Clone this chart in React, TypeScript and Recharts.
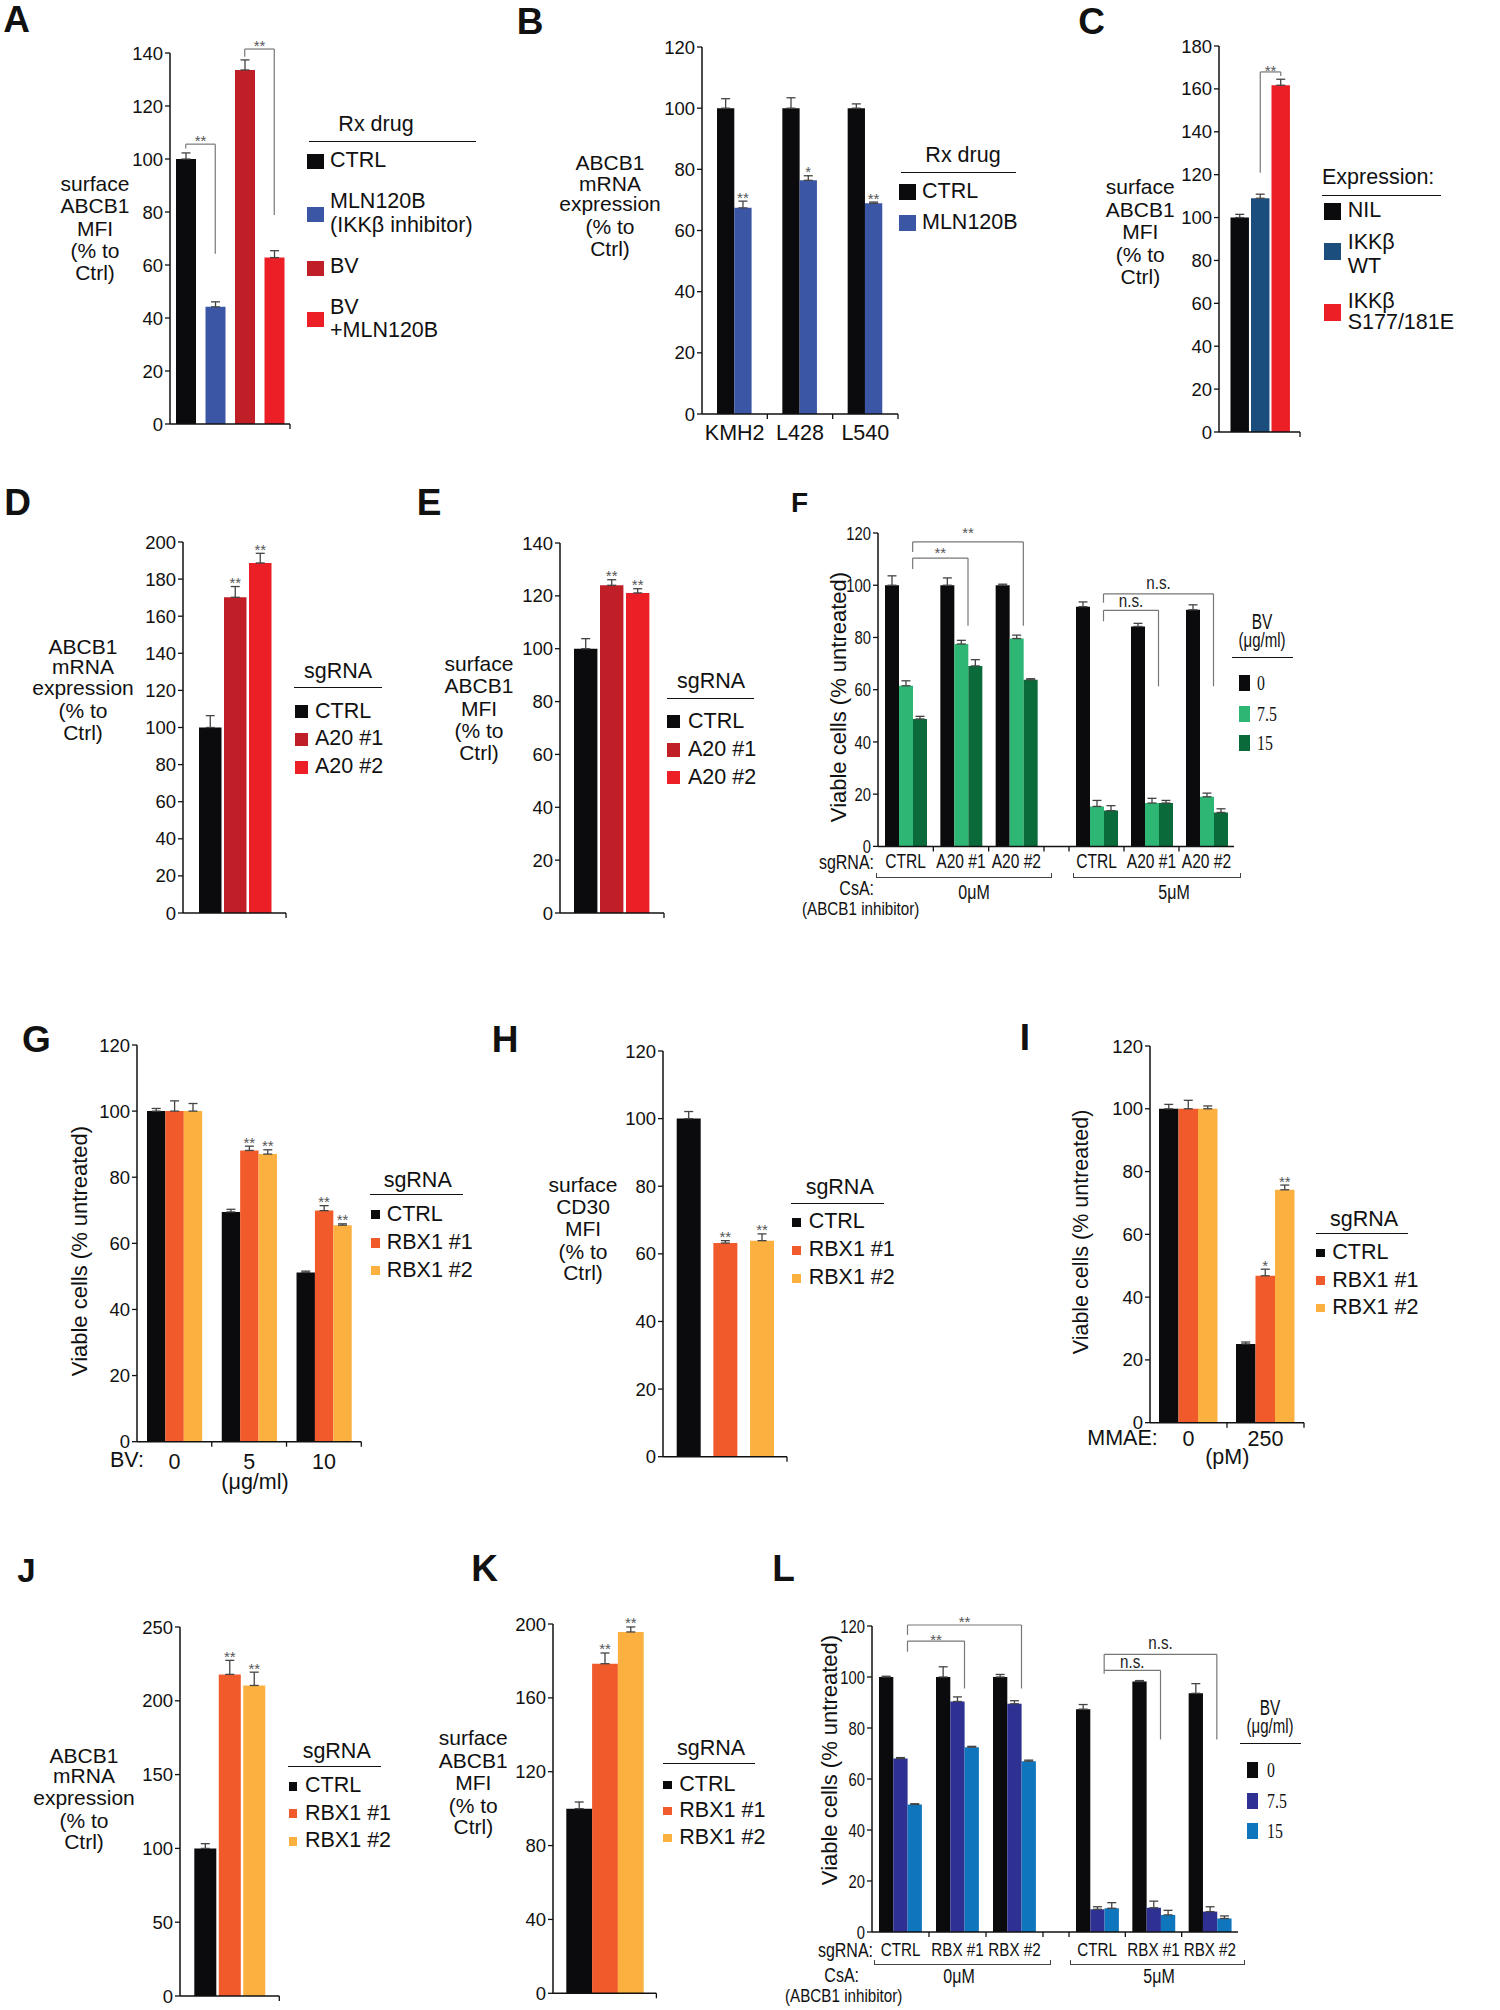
import React from 'react';
import { BarChart, Bar, XAxis, YAxis, ErrorBar, Cell, LabelList, ReferenceLine } from 'recharts';

const SANS = '"Liberation Sans", Arial, Helvetica, sans-serif';
const SERIF = '"Liberation Serif", "Times New Roman", serif';
const INK = '#111';
const NX = 0.8; // horizontal squeeze used for the condensed lettering of F and L

const BLACK = '#0b0b0d';
const BLUE = '#3c56a6';
const DARKRED = '#c01f27';
const RED = '#ec1f26';
const WTBLUE = '#1c4e7d';
const LGREEN = '#2eb674';
const DGREEN = '#0b6a3a';
const ORANGE = '#f15a2b';
const YELLOW = '#fbb040';
const NAVY = '#2e3192';
const SKY = '#0f75bc';

// y ticks
const tk120 = [0, 20, 40, 60, 80, 100, 120];
const tk140 = [0, 20, 40, 60, 80, 100, 120, 140];
const tk180 = [0, 20, 40, 60, 80, 100, 120, 140, 160, 180];
const tk200 = [0, 20, 40, 60, 80, 100, 120, 140, 160, 180, 200];
const tk250 = [0, 50, 100, 150, 200, 250];
const tk200by40 = [0, 40, 80, 120, 160, 200];

// A
const aCats = ['CTRL', 'MLN120B', 'BV', 'BV+MLN120B'];
const aMfi = [100, 44.2, 133.6, 62.8];
const aErr = [2.3, 1.9, 3.8, 2.6];
// B
const bLines = ['KMH2', 'L428', 'L540'];
const bCtrl = [100, 100, 100];
const bCtrlErr = [3.1, 3.4, 1.4];
const bMln = [67.4, 76.4, 68.9];
const bMlnErr = [2.2, 1.5, 0.4];
const bMlnSig = ['**', '*', '**'];
// C
const cCats = ['NIL', 'IKKβ WT', 'IKKβ S177/181E'];
const cMfi = [100, 109, 161.7];
const cErr = [1.5, 1.9, 2.8];
// D, E
const a20Cats = ['CTRL', 'A20 #1', 'A20 #2'];
const dMrna = [100, 170.2, 188.7];
const dErr = [6.4, 5.8, 5.2];
const eMfi = [100, 124, 121.1];
const eErr = [3.8, 2.1, 1.6];
const a20Sig = ['', '**', '**'];
// F  (BV 0 / 7.5 / 15 ug/ml, CsA 0 or 5 uM)
const fCsa0Bv0 = [100, 100, 100];
const fCsa0Bv0Err = [3.6, 2.8, 0.4];
const fCsa0Bv75 = [61.5, 77.5, 79.6];
const fCsa0Bv75Err = [1.9, 1.4, 1.3];
const fCsa0Bv15 = [48.8, 69.1, 63.8];
const fCsa0Bv15Err = [1.0, 2.4, 0.4];
const fCsa5Bv0 = [91.8, 84.2, 90.6];
const fCsa5Bv0Err = [1.8, 1.2, 1.9];
const fCsa5Bv75 = [15.3, 16.6, 19.0];
const fCsa5Bv75Err = [2.3, 1.8, 1.4];
const fCsa5Bv15 = [13.7, 16.6, 13.0];
const fCsa5Bv15Err = [1.9, 1.0, 1.4];
// G
const gDoses = ['0', '5', '10'];
const gCtrl = [100, 69.5, 51.2];
const gCtrlErr = [0.8, 0.8, 0.4];
const gRbx1 = [100, 88.1, 69.9];
const gRbx1Err = [3.1, 1.3, 1.5];
const gRbx2 = [100, 87.0, 65.5];
const gRbx2Err = [2.3, 1.3, 0.4];
const gSig = ['', '**', '**'];
// H, J, K
const rbxCats = ['CTRL', 'RBX1 #1', 'RBX1 #2'];
const hCd30 = [100, 63.2, 63.9];
const hErr = [2.1, 0.7, 2.0];
const jMrna = [100, 217.9, 210.4];
const jErr = [3.2, 9.5, 9.0];
const kMfi = [100, 178.5, 195.7];
const kErr = [3.6, 5.8, 2.7];
const rbxSig = ['', '**', '**'];
// I
const iDoses = ['0', '250'];
const iCtrl = [100, 25.1];
const iCtrlErr = [1.4, 0.6];
const iRbx1 = [100, 46.8];
const iRbx1Err = [2.7, 2.1];
const iRbx1Sig = ['', '*'];
const iRbx2 = [100, 74.2];
const iRbx2Err = [0.9, 1.5];
const iRbx2Sig = ['', '**'];
// L
const lCats = ['CTRL', 'RBX #1', 'RBX #2'];
const lCsa0Bv0 = [100, 100, 100];
const lCsa0Bv0Err = [0.3, 4.0, 1.0];
const lCsa0Bv75 = [68, 90.4, 89.5];
const lCsa0Bv75Err = [0.4, 1.8, 1.2];
const lCsa0Bv15 = [50, 72.5, 67];
const lCsa0Bv15Err = [0.3, 0.3, 0.4];
const lCsa5Bv0 = [87.4, 98.2, 93.6];
const lCsa5Bv0Err = [1.8, 0.4, 3.8];
const lCsa5Bv75 = [8.9, 9.5, 8.0];
const lCsa5Bv75Err = [1.0, 2.6, 1.9];
const lCsa5Bv15 = [9.3, 6.7, 5.3];
const lCsa5Bv15Err = [2.2, 1.8, 1.0];

type Col = { v: number[]; e: number[]; s?: string[] };
const table = (cats: string[], cols: Record<string, Col>) =>
  cats.map((cat, i) => {
    const r: any = { cat };
    Object.keys(cols).forEach((k) => {
      r[k] = cols[k].v[i];
      r[k + 'E'] = [0, cols[k].e[i]];
      r[k + 'S'] = cols[k].s ? cols[k].s![i] : '';
    });
    return r;
  });

const aRows = table(aCats, { v: { v: aMfi, e: aErr } });
const bRows = table(bLines, { c: { v: bCtrl, e: bCtrlErr }, m: { v: bMln, e: bMlnErr, s: bMlnSig } });
const cRows = table(cCats, { v: { v: cMfi, e: cErr } });
const dRows = table(a20Cats, { v: { v: dMrna, e: dErr, s: a20Sig } });
const eRows = table(a20Cats, { v: { v: eMfi, e: eErr, s: a20Sig } });
const f0Rows = table(a20Cats, {
  b0: { v: fCsa0Bv0, e: fCsa0Bv0Err },
  b75: { v: fCsa0Bv75, e: fCsa0Bv75Err },
  b15: { v: fCsa0Bv15, e: fCsa0Bv15Err },
});
const f5Rows = table(a20Cats, {
  b0: { v: fCsa5Bv0, e: fCsa5Bv0Err },
  b75: { v: fCsa5Bv75, e: fCsa5Bv75Err },
  b15: { v: fCsa5Bv15, e: fCsa5Bv15Err },
});
const gRows = table(gDoses, {
  c: { v: gCtrl, e: gCtrlErr },
  r1: { v: gRbx1, e: gRbx1Err, s: gSig },
  r2: { v: gRbx2, e: gRbx2Err, s: gSig },
});
const hRows = table(rbxCats, { v: { v: hCd30, e: hErr, s: rbxSig } });
const iRows = table(iDoses, {
  c: { v: iCtrl, e: iCtrlErr },
  r1: { v: iRbx1, e: iRbx1Err, s: iRbx1Sig },
  r2: { v: iRbx2, e: iRbx2Err, s: iRbx2Sig },
});
const jRows = table(rbxCats, { v: { v: jMrna, e: jErr, s: rbxSig } });
const kRows = table(rbxCats, { v: { v: kMfi, e: kErr, s: rbxSig } });
const l0Rows = table(lCats, {
  b0: { v: lCsa0Bv0, e: lCsa0Bv0Err },
  b75: { v: lCsa0Bv75, e: lCsa0Bv75Err },
  b15: { v: lCsa0Bv15, e: lCsa0Bv15Err },
});
const l5Rows = table(lCats, {
  b0: { v: lCsa5Bv0, e: lCsa5Bv0Err },
  b75: { v: lCsa5Bv75, e: lCsa5Bv75Err },
  b15: { v: lCsa5Bv15, e: lCsa5Bv15Err },
});

type Bracket = { a: string; b: string; top: number; aBot: number; bBot: number; text: string; up: number };
const aBrackets: Bracket[] = [
  { a: 'CTRL', b: 'MLN120B', top: 105.6, aBot: 104, bBot: 64.2, text: '**', up: 7 },
  { a: 'BV', b: 'BV+MLN120B', top: 141.5, aBot: 138.6, bBot: 78.9, text: '**', up: 7 },
];
const cBrackets: Bracket[] = [
  { a: 'IKKβ WT', b: 'IKKβ S177/181E', top: 167.9, aBot: 120.9, bBot: 166, text: '**', up: 4 },
];
const f0Brackets: Bracket[] = [
  { a: 'CTRL', b: 'A20 #1', top: 110.4, aBot: 106.2, bBot: 84.5, text: '**', up: 9 },
  { a: 'CTRL', b: 'A20 #2', top: 116.6, aBot: 112.7, bBot: 84.5, text: '**', up: 12.5 },
];
const f5Brackets: Bracket[] = [
  { a: 'CTRL', b: 'A20 #1', top: 90.4, aBot: 86.2, bBot: 61.3, text: 'n.s.', up: 8 },
  { a: 'CTRL', b: 'A20 #2', top: 96.7, aBot: 93.3, bBot: 61.3, text: 'n.s.', up: 10.3 },
];
const l0Brackets: Bracket[] = [
  { a: 'CTRL', b: 'RBX #1', top: 114.1, aBot: 109.9, bBot: 95.5, text: '**', up: 4.3 },
  { a: 'CTRL', b: 'RBX #2', top: 120.4, aBot: 116.5, bBot: 95.5, text: '**', up: 6.3 },
];
const l5Brackets: Bracket[] = [
  { a: 'CTRL', b: 'RBX #1', top: 102.6, aBot: 101.3, bBot: 75.5, text: 'n.s.', up: 7.7 },
  { a: 'CTRL', b: 'RBX #2', top: 108.9, aBot: 102.6, bBot: 75.5, text: 'n.s.', up: 10.7 },
];

// stars drawn just above each error bar
const starContent = (rows: any[], key: string) => (lp: any) => {
  const txt = lp.value;
  if (!txt) return null;
  const vb = lp.viewBox ?? lp;
  const row = rows[lp.index];
  if (!row || !vb) return null;
  const h = Math.abs(vb.height);
  const top = Math.min(vb.y, vb.y + vb.height);
  const k = h / row[key];
  const errTop = top - row[key + 'E'][1] * k;
  return (
    <text x={vb.x + vb.width / 2} y={errTop + 1.5} textAnchor="middle" fontSize={15} fill="#555" fontFamily={SANS}>
      {txt}
    </text>
  );
};

const segShape = (dx: number, text?: string, up = 0) => (sp: any) => {
  const x1 = sp.x1 + dx;
  const x2 = sp.x2 + dx;
  const ns = text === 'n.s.';
  const size = ns ? 19 : 15;
  const ty = sp.y1 - up + (ns ? 0.27 : 0.57) * size;
  return (
    <g>
      <line x1={x1} y1={sp.y1} x2={x2} y2={sp.y2} stroke="#777" strokeWidth={1.2} />
      {text ? (
        <text transform={`translate(${(x1 + x2) / 2},${ty}) scale(${ns ? NX : 1},1)`} textAnchor="middle" fontSize={size}
          fill={ns ? '#222' : '#555'} fontFamily={SANS}>
          {text}
        </text>
      ) : null}
    </g>
  );
};

const bracketLines = (br: Bracket, i: number, dx: number) => [
  <ReferenceLine key={`h${i}`} ifOverflow="visible" segment={[{ x: br.a, y: br.top }, { x: br.b, y: br.top }]} shape={segShape(dx, br.text, br.up)} />,
  <ReferenceLine key={`l${i}`} ifOverflow="visible" segment={[{ x: br.a, y: br.top }, { x: br.a, y: br.aBot }]} shape={segShape(dx)} />,
  <ReferenceLine key={`r${i}`} ifOverflow="visible" segment={[{ x: br.b, y: br.top }, { x: br.b, y: br.bBot }]} shape={segShape(dx)} />,
];

type Series = { key: string; fill: string; cellFills?: string[] };
interface PanelProps {
  x0: number; y0: number; w: number; h: number;
  rows: any[]; series: Series[];
  yMax: number; yTicks: number[];
  barSize: number; padL?: number; padR?: number;
  xLabel?: { size: number; dy: number; sx?: number };
  marks?: 'right' | 'left' | 'end';
  hideY?: boolean; yNarrow?: boolean; ySize?: number;
  brackets?: Bracket[]; bracketDx?: number;
}

const YW = 60, MT = 22, MR = 14, XH = 46;

function BarPanel(p: PanelProps) {
  const padL = p.padL ?? 0;
  const padR = p.padR ?? 0;
  const n = p.rows.length;
  const bw = (p.w - padL - padR) / n;
  const dx = p.bracketDx ?? 0;
  const ySize = p.ySize ?? 18.5;

  const xTick = (t: any) => {
    const { x, y, index, payload } = t;
    let mx: number | null = null;
    if (p.marks === 'right') mx = x + bw / 2;
    if (p.marks === 'left') mx = x - bw / 2;
    if (p.marks === 'end' && index === n - 1) mx = x + bw / 2 + padR;
    const lab = p.xLabel;
    return (
      <g>
        {mx !== null ? <line x1={mx} x2={mx} y1={y} y2={y + 5} stroke={INK} strokeWidth={1.3} /> : null}
        {lab ? (
          <text transform={`translate(${x},${y + lab.dy}) scale(${lab.sx ?? 1},1)`} textAnchor="middle"
            fontSize={lab.size} fontFamily={SANS} fill={INK}>
            {payload.value}
          </text>
        ) : null}
      </g>
    );
  };

  const yTick = p.yNarrow
    ? (t: any) => (
        <text transform={`translate(${t.x},${t.y}) scale(${NX},1)`} dy="0.36em" textAnchor="end" fontSize={ySize}
          fontFamily={SANS} fill={INK}>
          {t.payload.value}
        </text>
      )
    : { fontSize: ySize, fill: INK, fontFamily: SANS };

  return (
    <div style={{ position: 'absolute', left: p.x0 - YW, top: p.y0 - MT }}>
      <BarChart width={p.w + YW + MR} height={p.h + MT + XH} data={p.rows}
        margin={{ top: MT, right: MR, bottom: 0, left: p.hideY ? YW : 0 }} barGap={0} barCategoryGap={0}>
        <XAxis dataKey="cat" type="category" height={XH} padding={{ left: padL, right: padR }}
          axisLine={{ stroke: INK, strokeWidth: 1.5 }} tickLine={false} tickSize={0} tickMargin={0} interval={0} tick={xTick} />
        <YAxis type="number" hide={p.hideY} width={YW} domain={[0, p.yMax]} ticks={p.yTicks} interval={0} allowDataOverflow
          axisLine={{ stroke: INK, strokeWidth: 1.5 }} tickLine={{ stroke: INK, strokeWidth: 1.3 }} tickSize={5} tickMargin={2}
          tick={yTick as any} />
        {p.series.map((s) => (
          <Bar key={s.key} dataKey={s.key} fill={s.fill} barSize={p.barSize} isAnimationActive={false}>
            {s.cellFills ? p.rows.map((_, i) => <Cell key={i} fill={s.cellFills![i]} />) : null}
            <ErrorBar dataKey={s.key + 'E'} width={4.5} stroke="#444" strokeWidth={1.3} direction="y" isAnimationActive={false} />
            <LabelList dataKey={s.key + 'S'} content={starContent(p.rows, s.key)} />
          </Bar>
        ))}
        {(p.brackets ?? []).flatMap((br, i) => bracketLines(br, i, dx))}
      </BarChart>
    </div>
  );
}

function T({ x, y, children, size = 21, anchor = 'start', font = SANS, bold = false, rot = false, sx = 1, color = INK }: any) {
  const tx = anchor === 'middle' ? '-50%' : anchor === 'end' ? '-100%' : '0%';
  const origin = anchor === 'middle' ? 'center center' : anchor === 'end' ? 'right center' : 'left center';
  return (
    <div style={{
      position: 'absolute', left: x, top: y,
      transform: `translate(${tx}, -50%)${rot ? ' rotate(-90deg)' : ''}${sx !== 1 ? ` scaleX(${sx})` : ''}`,
      transformOrigin: origin,
      fontSize: size, fontFamily: font, fontWeight: bold ? 700 : 400, lineHeight: 1, whiteSpace: 'nowrap', color,
    }}>
      {children}
    </div>
  );
}

const Sq = ({ x, y, w, h, c }: any) => (
  <div style={{ position: 'absolute', left: x, top: y - h / 2, width: w, height: h, background: c }} />
);
const HL = ({ x1, x2, y }: any) => (
  <div style={{ position: 'absolute', left: x1, top: y - 0.75, width: x2 - x1, borderTop: `1.5px solid ${INK}` }} />
);
const UB = ({ x1, x2, y }: any) => (
  <div style={{ position: 'absolute', left: x1, top: y - 4, width: x2 - x1, height: 4, border: '1px solid #444', borderTop: 'none' }} />
);
const YLab = ({ x, ys, lines }: any) => (
  <>
    {lines.map((l: string, i: number) => (
      <T key={i} x={x} y={ys[i]} anchor="middle" size={21}>{l}</T>
    ))}
  </>
);
const Legend = ({ x, tx, ys, w, h, colors, labels, head, hy, hx, ux1, ux2, uy, size = 21.5, font = SANS, sx = 1 }: any) => (
  <>
    {head ? <T x={hx} y={hy} anchor="middle" size={21.5}>{head}</T> : null}
    <HL x1={ux1} x2={ux2} y={uy} />
    {colors.map((c: string, i: number) => <Sq key={i} x={x} y={ys[i]} w={w} h={h} c={c} />)}
    {labels.map((l: string, i: number) => <T key={'t' + i} x={tx} y={ys[i]} size={size} font={font} sx={sx}>{l}</T>)}
  </>
);

const mfiLines = ['surface', 'ABCB1', 'MFI', '(% to', 'Ctrl)'];
const mrnaLines = ['ABCB1', 'mRNA', 'expression', '(% to', 'Ctrl)'];
const viable = 'Viable cells (% untreated)';

export default function App() {
  const tri3 = (a: string, b: string, c: string) => [
    { key: 'b0', fill: a }, { key: 'b75', fill: b }, { key: 'b15', fill: c },
  ];
  return (
    <div style={{ position: 'absolute', left: 0, top: 0, width: 1500, height: 2010, background: '#fff', overflow: 'hidden', fontFamily: SANS, color: INK }}>
      {/* panel letters */}
      <T x={16.5} y={19} anchor="middle" size={37} bold>A</T>
      <T x={530} y={20.5} anchor="middle" size={37} bold>B</T>
      <T x={1091.5} y={20.5} anchor="middle" size={37} bold>C</T>
      <T x={17.5} y={501.7} anchor="middle" size={37} bold>D</T>
      <T x={429} y={501.7} anchor="middle" size={37} bold>E</T>
      <T x={799.5} y={503} anchor="middle" size={28} bold>F</T>
      <T x={36.5} y={1039} anchor="middle" size={37} bold>G</T>
      <T x={505} y={1038.5} anchor="middle" size={37} bold>H</T>
      <T x={1025} y={1037} anchor="middle" size={37} bold>I</T>
      <T x={26.5} y={1570} anchor="middle" size={33} bold>J</T>
      <T x={484.5} y={1568} anchor="middle" size={37} bold>K</T>
      <T x={783.5} y={1568} anchor="middle" size={37} bold>L</T>

      {/* A */}
      <BarPanel x0={170} y0={53} w={120} h={371} rows={aRows} series={[{ key: 'v', fill: BLACK, cellFills: [BLACK, BLUE, DARKRED, RED] }]}
        yMax={140} yTicks={tk140} barSize={20} padL={1} padR={1} marks="end" brackets={aBrackets} />
      <YLab x={95} ys={[182.7, 205, 227.7, 250, 271.7]} lines={mfiLines} />
      <T x={376} y={125} anchor="middle" size={21.5}>Rx drug</T>
      <HL x1={309} x2={476} y={142} />
      <Sq x={307} y={161} w={17} h={15} c={BLACK} />
      <T x={330} y={161} size={21.5}>CTRL</T>
      <Sq x={307} y={214.5} w={17} h={15} c={BLUE} />
      <T x={330} y={202} size={21.5}>MLN120B</T>
      <T x={330} y={226} size={21.5}>(IKKβ inhibitor)</T>
      <Sq x={307} y={268.5} w={17} h={15} c={DARKRED} />
      <T x={330} y={267} size={21.5}>BV</T>
      <Sq x={307} y={319.5} w={17} h={15} c={RED} />
      <T x={330} y={308} size={21.5}>BV</T>
      <T x={330} y={331} size={21.5}>+MLN120B</T>

      {/* B */}
      <BarPanel x0={702} y0={47} w={196} h={367} rows={bRows}
        series={[{ key: 'c', fill: BLACK }, { key: 'm', fill: BLUE }]}
        yMax={120} yTicks={tk120} barSize={17.3} marks="right" xLabel={{ size: 21.5, dy: 25.7 }} />
      <YLab x={610} ys={[162, 183, 203.3, 226, 248]} lines={mrnaLines} />
      <Legend head="Rx drug" hx={963} hy={156} ux1={901} ux2={1016} uy={173} x={899} tx={922} ys={[192, 222.5]} w={17} h={16}
        colors={[BLACK, BLUE]} labels={['CTRL', 'MLN120B']} />

      {/* C */}
      <BarPanel x0={1219} y0={46} w={81} h={386} rows={cRows} series={[{ key: 'v', fill: BLACK, cellFills: [BLACK, WTBLUE, RED] }]}
        yMax={180} yTicks={tk180} barSize={20.5} padL={10.5} padR={9} marks="end" brackets={cBrackets} />
      <YLab x={1140.3} ys={[186, 209.3, 230.7, 254, 276]} lines={mfiLines} />
      <T x={1322} y={178.3} size={21.5}>Expression:</T>
      <HL x1={1322} x2={1441} y={196} />
      <Sq x={1324} y={211.7} w={16.7} h={16.7} c={BLACK} />
      <T x={1347.7} y={211} size={21.5}>NIL</T>
      <Sq x={1324} y={251.7} w={16.7} h={16.7} c={WTBLUE} />
      <T x={1347.7} y={243.3} size={21.5}>IKKβ</T>
      <T x={1347.7} y={266.7} size={21.5}>WT</T>
      <Sq x={1324} y={312.3} w={16.7} h={16.7} c={RED} />
      <T x={1347.7} y={301.7} size={21.5}>IKKβ</T>
      <T x={1347.7} y={323.3} size={21.5}>S177/181E</T>

      {/* D */}
      <BarPanel x0={183} y0={542} w={103} h={371} rows={dRows} series={[{ key: 'v', fill: BLACK, cellFills: [BLACK, DARKRED, RED] }]}
        yMax={200} yTicks={tk200} barSize={25} padL={15} padR={13} marks="end" />
      <YLab x={83} ys={[645.7, 665.7, 687, 710, 732]} lines={mrnaLines} />
      <Legend head="sgRNA" hx={338} hy={671.7} ux1={294} ux2={382} uy={687.3} x={295} tx={315} ys={[711.7, 739, 767]} w={13} h={13}
        colors={[BLACK, DARKRED, RED]} labels={a20Cats} />

      {/* E */}
      <BarPanel x0={560} y0={543.3} w={104} h={370} rows={eRows} series={[{ key: 'v', fill: BLACK, cellFills: [BLACK, DARKRED, RED] }]}
        yMax={140} yTicks={tk140} barSize={26} padL={13} padR={13} marks="end" />
      <YLab x={479} ys={[662.7, 685, 707.7, 730, 751.7]} lines={mfiLines} />
      <Legend head="sgRNA" hx={711} hy={681.7} ux1={666.7} ux2={754} uy={698.3} x={667} tx={688} ys={[721.7, 750, 777.7]} w={13.3} h={13.3}
        colors={[BLACK, DARKRED, RED]} labels={a20Cats} />

      {/* F */}
      <BarPanel x0={878} y0={533.3} w={166} h={313.4} rows={f0Rows} series={tri3(BLACK, LGREEN, DGREEN)}
        yMax={120} yTicks={tk120} barSize={14} marks="right" yNarrow ySize={18.5}
        xLabel={{ size: 19.5, dy: 22, sx: NX }} brackets={f0Brackets} bracketDx={7} />
      <BarPanel x0={1044} y0={533.3} w={190} h={313.4} rows={f5Rows} series={tri3(BLACK, LGREEN, DGREEN)} hideY
        yMax={120} yTicks={tk120} barSize={14} padL={25} marks="left"
        xLabel={{ size: 19.5, dy: 22, sx: NX }} brackets={f5Brackets} bracketDx={7} />
      <T x={838.7} y={696.7} anchor="middle" size={22} rot>{viable}</T>
      <T x={873.7} y={861.7} anchor="end" size={20} sx={NX}>sgRNA:</T>
      <UB x1={876} x2={1050} y={876.7} />
      <UB x1={1072.7} x2={1238.7} y={876.7} />
      <T x={873.7} y={888} anchor="end" size={20} sx={NX}>CsA:</T>
      <T x={802} y={908.3} size={19} sx={NX}>(ABCB1 inhibitor)</T>
      <T x={973.7} y={891.7} anchor="middle" size={20} sx={NX}>0μM</T>
      <T x={1174} y={891.7} anchor="middle" size={20} sx={NX}>5μM</T>
      <T x={1262} y={621.7} anchor="middle" size={22} sx={0.7}>BV</T>
      <T x={1262} y={640} anchor="middle" size={20} sx={0.75}>(μg/ml)</T>
      <Legend ux1={1232} ux2={1293} uy={657.3} x={1238.7} tx={1257} ys={[683.3, 714.3, 743.3]} w={11} h={16}
        colors={[BLACK, LGREEN, DGREEN]} labels={['0', '7.5', '15']} size={22} font={SERIF} sx={0.72} />

      {/* G */}
      <BarPanel x0={136.7} y0={1045.3} w={224.3} h={396.7} rows={gRows}
        series={[{ key: 'c', fill: BLACK }, { key: 'r1', fill: ORANGE }, { key: 'r2', fill: YELLOW }]}
        yMax={120} yTicks={tk120} barSize={18.4} marks="right" xLabel={{ size: 21.5, dy: 27 }} />
      <T x={80} y={1250.5} anchor="middle" size={22} rot>{viable}</T>
      <T x={110} y={1461.3} size={21.5}>BV:</T>
      <T x={255} y={1483} anchor="middle" size={21.5}>(μg/ml)</T>
      <Legend head="sgRNA" hx={417.7} hy={1181.3} ux1={370} ux2={462.7} uy={1194.7} x={370.7} tx={386.7} ys={[1214.7, 1243, 1270.7]} w={9.5} h={9.5}
        colors={[BLACK, ORANGE, YELLOW]} labels={rbxCats} />

      {/* H */}
      <BarPanel x0={663} y0={1051.3} w={124} h={405.7} rows={hRows} series={[{ key: 'v', fill: BLACK, cellFills: [BLACK, ORANGE, YELLOW] }]}
        yMax={120} yTicks={tk120} barSize={24} padL={7.7} padR={6.3} marks="end" />
      <YLab x={583} ys={[1183.7, 1206.3, 1228, 1251.3, 1272.3]} lines={['surface', 'CD30', 'MFI', '(% to', 'Ctrl)']} />
      <Legend head="sgRNA" hx={839.7} hy={1188} ux1={791.3} ux2={884.3} uy={1203.7} x={792} tx={808.7} ys={[1222.3, 1250.3, 1278]} w={9} h={9}
        colors={[BLACK, ORANGE, YELLOW]} labels={rbxCats} />

      {/* I */}
      <BarPanel x0={1150} y0={1046.3} w={154} h={376.7} rows={iRows}
        series={[{ key: 'c', fill: BLACK }, { key: 'r1', fill: ORANGE }, { key: 'r2', fill: YELLOW }]}
        yMax={120} yTicks={tk120} barSize={19.5} marks="right" xLabel={{ size: 21.5, dy: 23.7 }} />
      <T x={1082.3} y={1232} anchor="middle" size={21.5} rot>{viable}</T>
      <T x={1087.3} y={1439} size={21.5}>MMAE:</T>
      <T x={1227.3} y={1458} anchor="middle" size={21.5}>(pM)</T>
      <Legend head="sgRNA" hx={1364} hy={1220.3} ux1={1315.7} ux2={1408.3} uy={1233.7} x={1316.3} tx={1332.3} ys={[1253, 1280.7, 1308]} w={8.7} h={8.7}
        colors={[BLACK, ORANGE, YELLOW]} labels={rbxCats} />

      {/* J */}
      <BarPanel x0={180} y0={1627.3} w={99.3} h={369} rows={jRows} series={[{ key: 'v', fill: BLACK, cellFills: [BLACK, ORANGE, YELLOW] }]}
        yMax={250} yTicks={tk250} barSize={24.5} padL={13.3} padR={12.6} marks="end" />
      <YLab x={84} ys={[1755.3, 1775.3, 1797.3, 1819.7, 1841.3]} lines={mrnaLines} />
      <Legend head="sgRNA" hx={336.7} hy={1752} ux1={288.3} ux2={381} uy={1767} x={288.7} tx={305} ys={[1786.3, 1813.7, 1841.3]} w={8.7} h={8.7}
        colors={[BLACK, ORANGE, YELLOW]} labels={rbxCats} />

      {/* K */}
      <BarPanel x0={553.3} y0={1624} w={103.4} h={369.3} rows={kRows} series={[{ key: 'v', fill: BLACK, cellFills: [BLACK, ORANGE, YELLOW] }]}
        yMax={200} yTicks={tk200by40} barSize={25.8} padL={13.3} padR={12.7} marks="end" />
      <YLab x={473.3} ys={[1737, 1759.7, 1782.3, 1804.7, 1826.3]} lines={mfiLines} />
      <Legend head="sgRNA" hx={711} hy={1748.7} ux1={663.3} ux2={755} uy={1763.7} x={663.3} tx={679.3} ys={[1784.7, 1810.7, 1838]} w={8.4} h={8.4}
        colors={[BLACK, ORANGE, YELLOW]} labels={rbxCats} />

      {/* L */}
      <BarPanel x0={872} y0={1626.3} w={171} h={306} rows={l0Rows} series={tri3(BLACK, NAVY, SKY)}
        yMax={120} yTicks={tk120} barSize={14.3} marks="right" yNarrow ySize={18.5}
        xLabel={{ size: 19, dy: 24.2, sx: NX }} brackets={l0Brackets} bracketDx={7} />
      <BarPanel x0={1043} y0={1626.3} w={195} h={306} rows={l5Rows} series={tri3(BLACK, NAVY, SKY)} hideY
        yMax={120} yTicks={tk120} barSize={14.3} padL={26} marks="left"
        xLabel={{ size: 19, dy: 24.2, sx: NX }} brackets={l5Brackets} bracketDx={7} />
      <T x={830.3} y={1759.7} anchor="middle" size={22} rot>{viable}</T>
      <T x={872.7} y={1949.7} anchor="end" size={20} sx={NX}>sgRNA:</T>
      <UB x1={873.7} x2={1048.7} y={1964} />
      <UB x1={1070.3} x2={1243} y={1964} />
      <T x={858.7} y={1974.7} anchor="end" size={20} sx={NX}>CsA:</T>
      <T x={785.3} y={1994.7} size={19} sx={NX}>(ABCB1 inhibitor)</T>
      <T x={958.7} y={1976.3} anchor="middle" size={20} sx={NX}>0μM</T>
      <T x={1158.7} y={1976.3} anchor="middle" size={20} sx={NX}>5μM</T>
      <T x={1270.3} y={1708} anchor="middle" size={22} sx={0.7}>BV</T>
      <T x={1270.3} y={1726.3} anchor="middle" size={20} sx={0.75}>(μg/ml)</T>
      <Legend ux1={1240.3} ux2={1301.3} uy={1744} x={1247} tx={1267} ys={[1770.3, 1800.7, 1830.7]} w={11} h={16}
        colors={[BLACK, NAVY, SKY]} labels={['0', '7.5', '15']} size={22} font={SERIF} sx={0.72} />
    </div>
  );
}
